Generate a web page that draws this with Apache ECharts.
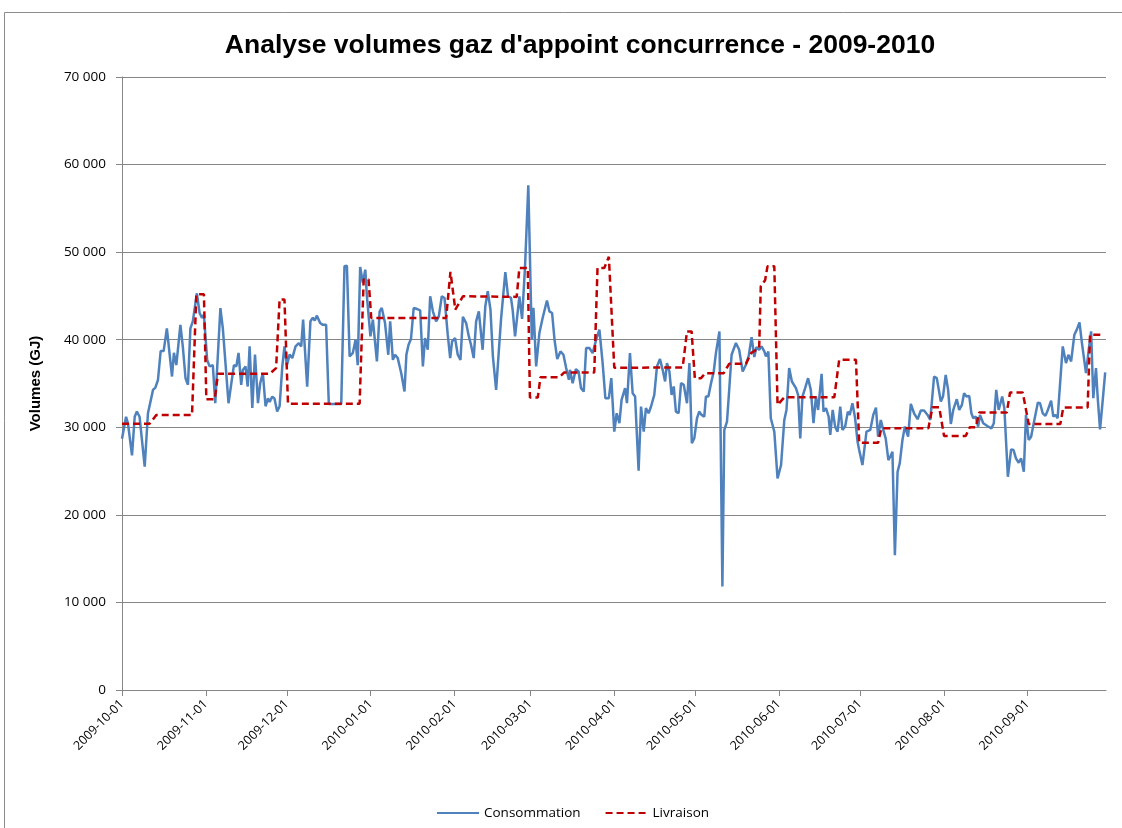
<!DOCTYPE html>
<html>
<head>
<meta charset="utf-8">
<title>Analyse volumes gaz d'appoint concurrence - 2009-2010</title>
<script src="https://cdn.jsdelivr.net/npm/echarts@6/dist/echarts.min.js"></script>
<style>
  html, body { margin: 0; padding: 0; background: #fff; }
  #chart { width: 1122px; height: 828px; }
</style>
</head>
<body>
<div id="chart"></div>
<script>
// Jours comptés depuis le 2009-10-01 (GJ)
const startDate = '2009-10-01';
const endDate = '2010-09-30';

const monthTicks = ['2009-10-01', '2009-11-01', '2009-12-01', '2010-01-01', '2010-02-01', '2010-03-01',
    '2010-04-01', '2010-05-01', '2010-06-01', '2010-07-01', '2010-08-01', '2010-09-01'];

const consoDay = [
    0, 1.5, 2.2, 3.7, 4.7, 5.5, 6.5, 8.4, 9.6, 11.5, 12.3, 13.3, 14.3, 15.4, 16.6, 18.5, 19.2, 20.1,
    21.6, 22.5, 23.5, 24.4, 25.3, 26.2, 27.7, 28.7, 29.6, 30.3, 31.5, 32.4, 33.6, 34.5, 36.4, 37.3,
    39.4, 41.4, 42.3, 43.1, 44.1, 44.7, 45.7, 46.5, 47.2, 48.2, 49.2, 50.3, 51.1, 52.1, 53.1, 54.0,
    54.6, 55.6, 56.4, 57.4, 58.3, 59.3, 60.1, 61.0, 62.0, 63.0, 64.2, 65.4, 66.3, 67.0, 68.5, 69.7,
    70.6, 71.3, 72.1, 73.3, 74.3, 75.5, 76.5, 81.1, 82.3, 83.2, 84.2, 85.4, 86.4, 87.2, 88.1, 89.1,
    90.0, 90.6, 91.9, 92.8, 94.3, 95.3, 96.1, 97.3, 98.5, 99.2, 100.2, 101.0, 102.0, 103.3, 104.5,
    105.2, 106.0, 106.9, 107.9, 109.2, 110.3, 111.3, 112.1, 113.1, 114.0, 115.0, 116.2, 117.2, 118.3,
    119.3, 120.5, 121.4, 122.1, 123.2, 124.2, 125.2, 126.1, 127.3, 128.3, 129.1, 130.1, 131.0, 132.0,
    133.4, 134.4, 135.3, 136.3, 137.2, 138.4, 140.2, 141.8, 142.8, 143.9, 144.5, 145.4, 146.0, 147.0,
    148.0, 149.1, 150.3, 151.6, 152.2, 153.2, 154.4, 155.6, 157.2, 158.1, 159.1, 160.0, 161.0, 162.2,
    163.3, 164.3, 165.3, 165.7, 166.7, 167.9, 168.9, 169.8, 170.8, 171.7, 172.9, 174.1, 175.4, 176.6,
    177.8, 178.8, 180.1, 181.0, 182.1, 183.0, 184.0, 184.8, 186.1, 186.8, 187.9, 188.9, 189.8, 191.1,
    192.0, 193.0, 193.8, 194.8, 195.7, 196.9, 197.9, 199.0, 200.0, 200.9, 201.6, 202.5, 203.3, 204.1,
    204.9, 205.9, 206.8, 207.8, 209.0, 209.9, 210.8, 211.7, 212.7, 213.5, 214.4, 215.4, 216.0, 216.9,
    217.9, 218.9, 219.7, 221.0, 222.1, 222.8, 223.8, 224.7, 225.5, 227.1, 228.3, 229.6, 230.8, 231.8,
    232.9, 233.9, 234.7, 235.7, 236.6, 237.6, 238.2, 239.1, 240.0, 241.3, 242.5, 243.8, 245.0, 245.8,
    246.8, 247.8, 249.3, 250.1, 250.9, 251.7, 252.7, 253.8, 254.8, 255.8, 256.7, 257.5, 258.8, 259.5,
    260.4, 261.4, 262.0, 262.9, 263.8, 264.7, 265.7, 266.5, 267.5, 268.5, 269.2, 270.2, 271.2, 272.1,
    272.7, 273.9, 275.4, 276.8, 277.9, 278.9, 279.7, 280.7, 281.6, 282.5, 283.5, 284.2, 285.0, 285.9,
    286.9, 287.7, 288.7, 289.6, 290.3, 290.8, 291.8, 293.0, 294.3, 295.5, 296.7, 298.0, 299.0, 300.4,
    301.4, 302.9, 303.7, 304.7, 305.6, 306.6, 307.5, 308.8, 309.7, 310.7, 311.5, 312.4, 313.4, 314.2,
    314.9, 315.8, 316.7, 317.4, 318.6, 320.1, 321.6, 322.5, 323.4, 324.3, 325.6, 326.4, 327.7, 328.9,
    329.8, 330.7, 331.7, 332.6, 333.6, 334.4, 335.4, 336.3, 337.5, 338.8, 339.6, 340.6, 341.6, 342.5,
    343.7, 344.5, 345.3, 346.1, 348.0, 349.2, 350.1, 351.1, 352.3, 353.2, 354.2, 355.1, 356.6, 357.6,
    358.5, 359.3, 360.3, 360.9, 361.8, 362.8, 363.7
];
const consoValue = [
    28700, 31200, 30450, 26800, 31200, 31800, 31200, 25500, 31600, 34300, 34500, 35400, 38700, 38700, 41300, 35800, 38500, 37100,
    41700, 39200, 35600, 34850, 41300, 42100, 45300, 43050, 42500, 42850, 37700, 36950, 37100, 32750, 43600, 41300,
    32750, 37100, 36950, 38500, 34850, 36550, 36950, 34650, 39240, 32200, 38300, 32750, 35000, 36200, 32400, 33300,
    32900, 33500, 33300, 31800, 32400, 36950, 39240, 37100, 38300, 37900, 39240, 39600, 39240, 42300, 34650, 42100,
    42500, 42200, 42750, 41900, 41700, 41700, 32670, 32670, 48400, 48450, 38100, 38500, 40000, 37100, 48300, 46500,
    48000, 44950, 40380, 42290, 37520, 43240, 43620, 41900, 38280, 42100, 37700, 38280, 37900, 36180, 34080,
    38280, 39430, 40080, 43620, 43500, 43360, 36950, 40190, 38850, 44960, 43240, 42100, 42670, 44960,
    44770, 40570, 37900, 39810, 40190, 38280, 37700, 42600, 41900, 40380, 39430, 37900, 42100, 43240,
    38850, 43820, 45530, 43430, 38090, 34270, 42290, 47710, 44960, 44770, 43440, 40380, 40570, 44960,
    42370, 48400, 57630, 40000, 43630, 36950, 40760, 42480, 44470, 43240, 43050, 40000, 37790, 38660,
    38280, 36760, 35420, 36560, 35040, 36640, 36370, 34460, 34080, 39050, 39050, 38470, 40000, 41150,
    37330, 33320, 33320, 35610, 29500, 31600, 30460, 33130, 34470, 32750, 38470, 33890, 33510, 25040,
    32370, 29500, 32180, 31600, 32370, 33700, 36950, 37790, 36560, 35230, 37330, 36370, 33700, 34660,
    31790, 31600, 35040, 34850, 32750, 37330, 28170, 28740, 31030, 31790, 31410, 31220, 33510, 33510,
    35040, 36370, 38470, 40950, 11830, 29690, 30650, 34660, 38280, 39620, 38850, 36370, 37140, 38090,
    40300, 38020, 39160, 38850, 39240, 38660, 38090, 38660, 31030, 29500, 24160, 25690, 30840, 31980,
    36760, 35230, 34460, 33700, 28740, 33510, 34460, 35610, 34270, 30460, 33510, 31980, 36110, 31790,
    32180, 31220, 29120, 31980, 30080, 29500, 32370, 29690, 30080, 31790, 31410, 32750, 31030, 28360,
    27400, 25690, 29500, 29700, 31410, 32250, 28930, 30840, 29700, 28740, 26260, 26640, 27210, 15380,
    24920, 25880, 28550, 30080, 29880, 28930, 32670, 31600, 30920, 31910, 31910, 31410, 30840, 35800,
    35610, 32940, 33510, 35990, 34270, 30380, 31980, 33210, 31980, 32560, 33890, 33510, 33590, 31600,
    31030, 31220, 30080, 31410, 30460, 30150, 29880, 30460, 34270, 31980, 33510, 32180, 24350, 27480,
    27400, 26450, 25950, 26450, 24920, 31410, 28550, 28930, 30840, 32820, 32750, 31600, 31300, 31980,
    33050, 31220, 31410, 31030, 39240, 37330, 38280, 37520, 40570, 41150, 41980, 39620, 36180, 38850,
    40950, 33320, 36760, 33510, 29770, 33130, 36260
];

const livDay = [
    0, 10.2, 12.7, 25.9, 27.5, 30.3, 31.2, 34.3, 35.5, 54.6, 57.0, 58.3, 60.1, 61.4, 87.9, 89.4,
    91.2, 92.2, 119.9, 121.5, 122.1, 123.3, 126.1, 146.0, 147.0, 150.1, 150.9, 153.8, 154.8, 161.8,
    163.6, 174.7, 175.9, 178.4, 180.1, 182.1, 207.4, 209.0, 210.7, 211.9, 214.2, 215.7, 222.6, 224.6,
    230.8, 232.8, 235.7, 236.3, 237.9, 238.8, 241.3, 242.5, 245.0, 263.5, 265.3, 271.5, 272.7, 279.7,
    280.9, 298.3, 299.8, 302.3, 304.1, 312.1, 313.6, 315.8, 317.1, 327.3, 328.5, 333.2, 335.4, 347.1,
    348.2, 357.2, 358.1, 362.6
];
const livValue = [
    30400, 30400, 31400, 31400, 45200, 45200, 33200, 33200, 36100, 36100, 36750, 44600, 44600, 32700, 32700, 46900,
    46900, 42480, 42480, 47750, 47750, 43430, 44960, 44890, 48200, 48200, 33400, 33400, 35720, 35720,
    36260, 36260, 48200, 48200, 49470, 36800, 36830, 40950, 40950, 35610, 35610, 36180, 36180, 37250,
    37250, 38500, 39050, 46110, 46800, 48400, 48400, 32560, 33430, 33430, 37710, 37710, 28240, 28240,
    29880, 29880, 32290, 32290, 29010, 29010, 30000, 30000, 31680, 31680, 33970, 33970, 30380, 30380,
    32250, 32250, 40570, 40570
];

const DAY_MS = 86400000;

function parseDate(s) {
    const p = s.split('-').map(Number);
    return Date.UTC(p[0], p[1] - 1, p[2]);
}

function pad(n) {
    return n < 10 ? '0' + n : '' + n;
}

const t0 = parseDate(startDate);

// jour -> 'AAAA-MM-JJ'
function dayToLabel(day) {
    const d = new Date(t0 + Math.round(day) * DAY_MS);
    return d.getUTCFullYear() + '-' + pad(d.getUTCMonth() + 1) + '-' + pad(d.getUTCDate());
}

function formatVolume(v) {
    return String(v).replace(/\B(?=(\d{3})+(?!\d))/g, ' ');
}

const lastDay = Math.round((parseDate(endDate) - t0) / DAY_MS);
const tickDays = monthTicks.map(s => Math.round((parseDate(s) - t0) / DAY_MS));
const consoData = consoDay.map((d, i) => [d, consoValue[i]]);
const livData = livDay.map((d, i) => [d, livValue[i]]);

const chart = echarts.init(document.getElementById('chart'));

const option = {
    backgroundColor: '#fff',
    animation: false,
    textStyle: { fontFamily: 'Open Sans, Noto Sans, sans-serif' },
    title: {
        text: "Analyse volumes gaz d'appoint concurrence - 2009-2010",
        left: 575,
        top: 27,
        textAlign: 'center',
        textStyle: {
            fontFamily: 'Liberation Sans, Arial, sans-serif',
            fontSize: 26.5,
            fontWeight: 'bold',
            color: '#000'
        }
    },
    graphic: [
        {
            type: 'rect',
            shape: { x: 4.5, y: 12.5, width: 1300, height: 1000 },
            style: { fill: 'none', stroke: '#8c8c8c', lineWidth: 1 },
            silent: true
        }
    ],
    legend: {
        left: 431,
        top: 801,
        itemWidth: 42,
        itemHeight: 12,
        itemGap: 24,
        itemStyle: { opacity: 0 },
        textStyle: { fontSize: 13.5, color: '#000' },
        data: ['Consommation', 'Livraison']
    },
    grid: {
        left: 122,
        right: 16,
        top: 77,
        bottom: 138
    },
    xAxis: {
        type: 'value',
        min: 0,
        max: lastDay,
        axisLine: { lineStyle: { color: '#868686', width: 1 } },
        axisTick: {
            show: true,
            length: 6,
            customValues: tickDays,
            lineStyle: { color: '#868686' }
        },
        axisLabel: {
            customValues: tickDays,
            rotate: 45,
            margin: 12,
            fontSize: 12.5,
            color: '#000',
            formatter: function (v) { return dayToLabel(v); }
        },
        splitLine: { show: false }
    },
    yAxis: {
        type: 'value',
        min: 0,
        max: 70000,
        interval: 10000,
        name: 'Volumes (GJ)',
        nameLocation: 'middle',
        nameRotate: 90,
        nameGap: 79,
        nameTextStyle: {
            fontFamily: 'Liberation Sans, Arial, sans-serif',
            fontSize: 15,
            fontWeight: 'bold',
            color: '#000'
        },
        axisLine: { show: true, lineStyle: { color: '#868686', width: 1 } },
        axisTick: { show: true, length: 6, lineStyle: { color: '#868686' } },
        axisLabel: {
            margin: 16,
            fontSize: 13.5,
            color: '#000',
            formatter: function (v) { return formatVolume(v); }
        },
        splitLine: { lineStyle: { color: '#868686', width: 1 } }
    },
    series: [
        {
            name: 'Consommation',
            type: 'line',
            data: consoData,
            symbol: 'none',
            lineStyle: { color: '#4f81bd', width: 2.5 },
            itemStyle: { color: '#4f81bd' },
            z: 2
        },
        {
            name: 'Livraison',
            type: 'line',
            data: livData,
            symbol: 'none',
            lineStyle: { color: '#c00000', width: 2.5, type: [7, 4] },
            itemStyle: { color: '#c00000' },
            z: 3
        }
    ]
};

chart.setOption(option);

window.addEventListener('resize', function () {
    chart.resize();
});
</script>
</body>
</html>
